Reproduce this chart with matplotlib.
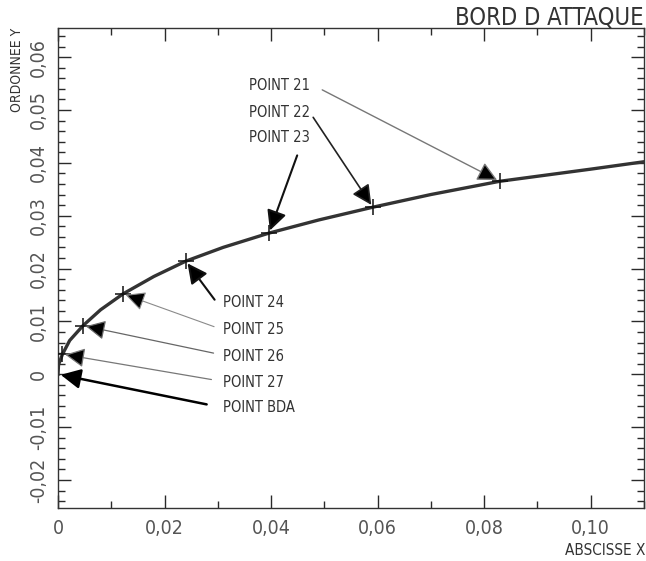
import matplotlib
matplotlib.use('Agg')
import matplotlib.pyplot as plt
from matplotlib.ticker import MultipleLocator, FixedLocator

# leading edge profile
profile_x = [0.0, 0.0001, 0.00084, 0.0022, 0.0047, 0.008, 0.0122, 0.018, 0.024,
             0.031, 0.0396, 0.049, 0.0591, 0.070, 0.0829, 0.100, 0.110]
profile_y = [0.0, 0.0018, 0.0038, 0.0064, 0.0092, 0.0122, 0.0152, 0.0185, 0.0214,
             0.0240, 0.0267, 0.0292, 0.0316, 0.0340, 0.0365, 0.0388, 0.0402]

# marked points
point_names = ['POINT 21', 'POINT 22', 'POINT 23', 'POINT 24', 'POINT 25',
               'POINT 26', 'POINT 27', 'POINT BDA']
point_x = [0.0829, 0.0591, 0.0396, 0.0240, 0.0122, 0.0047, 0.00084, 0.0]
point_y = [0.0365, 0.0316, 0.0267, 0.0214, 0.0152, 0.0092, 0.0038, 0.0]

xticks = [0.0, 0.02, 0.04, 0.06, 0.08, 0.10]
xticklabels = ['0', '0,02', '0,04', '0,06', '0,08', '0,10']
yticks = [-0.02, -0.01, 0.0, 0.01, 0.02, 0.03, 0.04, 0.05, 0.06]
yticklabels = ['-0,02', '-0,01', '0', '0,01', '0,02', '0,03', '0,04', '0,05', '0,06']

# layout of the annotation labels and arrow tails
label_pos = [(0.0359, 0.0547), (0.0359, 0.0495), (0.0359, 0.0448), (0.0310, 0.0135),
             (0.0310, 0.0084), (0.0310, 0.0034), (0.0310, -0.0015), (0.0310, -0.0063)]
tail_pos = [(0.0496, 0.0538), (0.0479, 0.0486), (0.0449, 0.0414), (0.0294, 0.0141),
            (0.0293, 0.0090), (0.0292, 0.0040), (0.0288, -0.0010), (0.0279, -0.0057)]
arrow_style = [('#777777', 1.0), ('#222222', 1.2), ('#111111', 1.5), ('#111111', 1.5),
               ('#8a8a8a', 0.8), ('#666666', 0.9), ('#777777', 0.9), ('#000000', 1.8)]

ink = '#2a2a2a'
txt = dict(family=['DejaVu Sans'], stretch='condensed')  # picks DejaVu Sans Condensed

fig = plt.figure(figsize=(6.46, 5.61), dpi=100)
ax = fig.add_axes([58 / 646, 53 / 561, 586 / 646, 480 / 561])

ax.plot(profile_x, profile_y, color='#333333', lw=2.4, zorder=3)
ax.plot(point_x[:-1], point_y[:-1], linestyle='none', marker='+', markersize=11,
        mew=1.1, color='#111111', zorder=4)

for name, (lx, ly), (tx, ty), px, py, (c, lw) in zip(point_names, label_pos, tail_pos,
                                                    point_x, point_y, arrow_style):
    ax.text(lx, ly, name, ha='left', va='center', fontsize=10.5, color='#333333', **txt)
    ax.annotate('', xy=(px, py), xytext=(tx, ty),
                arrowprops=dict(arrowstyle='-|>,head_length=0.6,head_width=0.3',
                                mutation_scale=20, lw=lw, ec=c, fc='black',
                                shrinkA=0, shrinkB=2), zorder=5)

ax.set_xlim(0, 0.110)
ax.set_ylim(-0.0253, 0.0655)

ax.xaxis.set_major_locator(FixedLocator(xticks))
ax.xaxis.set_minor_locator(MultipleLocator(0.01))
ax.yaxis.set_major_locator(FixedLocator(yticks))
ax.yaxis.set_minor_locator(MultipleLocator(0.002))
ax.set_xticklabels(xticklabels, fontsize=14, color='#555555', **txt)
ax.set_yticklabels(yticklabels, fontsize=14, color='#555555',
                   rotation=90, va='center', **txt)

ax.tick_params(which='both', direction='in', top=True, right=True, color=ink)
ax.tick_params(which='major', length=9.5, width=1.0)
ax.tick_params(which='minor', length=5, width=1.0)
ax.tick_params(axis='x', pad=8)
ax.tick_params(axis='y', pad=7)
for s in ax.spines.values():
    s.set_color('#333333')
    s.set_linewidth(1.0)

fig.text(644 / 646, 1 - 25 / 561, 'BORD D ATTAQUE', ha='right', va='baseline',
         fontsize=17, color='#333333', **txt)
fig.text(645 / 646, 1 - 555 / 561, 'ABSCISSE X', ha='right', va='baseline',
         fontsize=11, color='#333333', **txt)
fig.text(24 / 646, 1 - 28 / 561, 'ORDONNEE Y', ha='right', va='top', rotation=90,
         fontsize=10, color='#333333', **txt)

fig.savefig('out.png', dpi=100)
